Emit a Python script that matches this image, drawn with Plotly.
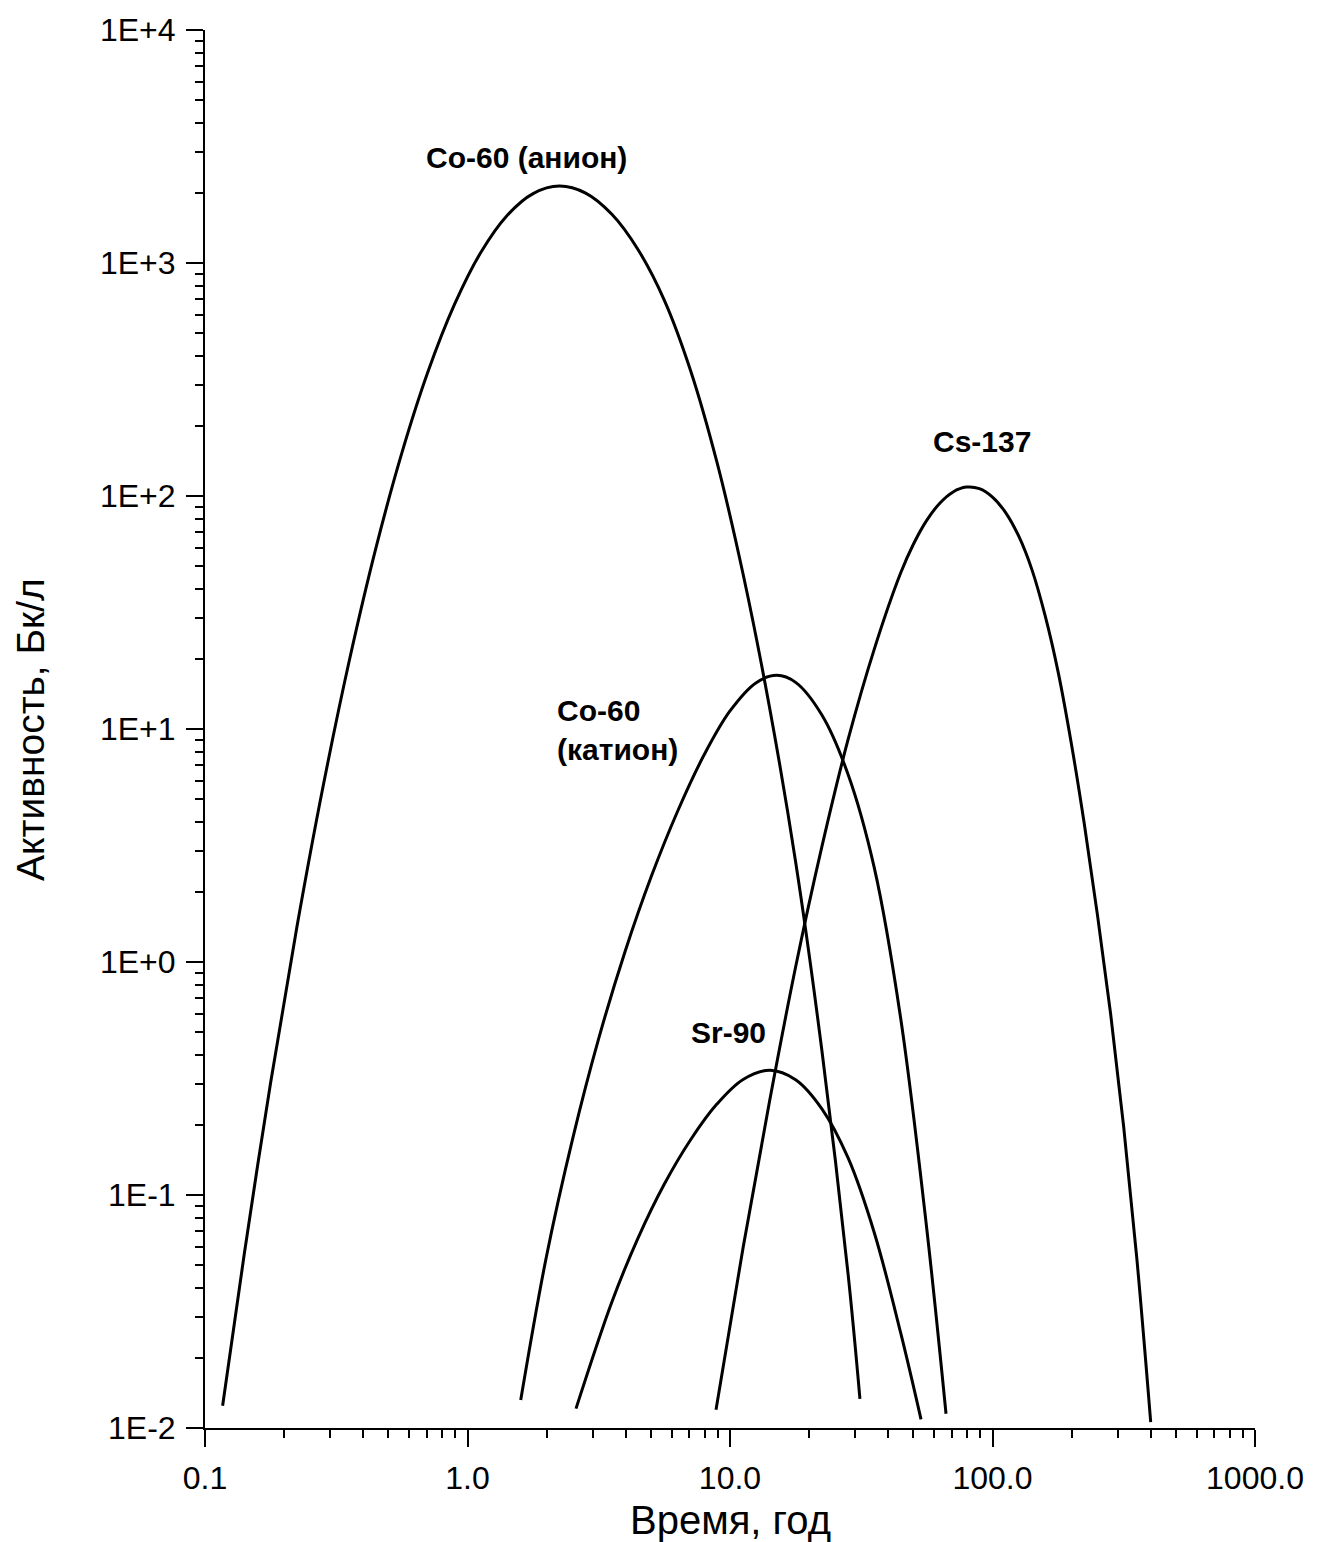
import numpy as np
import plotly.graph_objects as go

# Time (years) and activity (Bq/L) for each radionuclide
t_co60_anion = [0.1167, 0.1413, 0.1778, 0.2239, 0.2818, 0.3548, 0.4467, 0.5623, 0.7079,
                0.8913, 1.122, 1.413, 1.778, 2.239, 2.818, 3.548, 4.467, 5.623, 7.079,
                8.913, 11.22, 14.13, 17.78, 22.39, 28.18, 31.26]
a_co60_anion = [0.01245, 0.05636, 0.3034, 1.413, 5.675, 19.72, 59.16, 153.1, 342.8,
                662.2, 1107, 1596, 1986, 2138, 1995, 1618, 1140, 691.8, 345.1,
                140.0, 46.13, 12.47, 2.692, 0.4169, 0.04560, 0.01334]

t_co60_cation = [1.595, 1.995, 2.512, 3.162, 3.981, 5.012, 6.310, 7.943, 10.0, 12.59,
                 15.07, 17.78, 22.39, 28.18, 35.48, 44.67, 56.23, 66.52]
a_co60_cation = [0.01318, 0.05395, 0.1734, 0.4699, 1.107, 2.326, 4.426, 7.691, 11.95, 15.81,
                 16.99, 15.85, 11.48, 6.379, 2.527, 0.5754, 0.07096, 0.01151]

t_sr90 = [2.590, 3.548, 4.467, 5.623, 7.079, 8.913, 11.22, 14.21, 17.78, 22.39,
          28.18, 35.48, 44.67, 53.42]
a_sr90 = [0.01211, 0.03475, 0.06546, 0.1114, 0.1726, 0.2455, 0.3133, 0.3433, 0.3126, 0.2344,
          0.1442, 0.06871, 0.02564, 0.01089]

t_cs137 = [8.845, 11.22, 14.13, 17.78, 22.39, 28.18, 35.48, 44.67, 50.12, 56.23,
           63.10, 70.79, 79.43, 89.13, 100.0, 112.2, 125.9, 141.3, 158.5, 177.8,
           199.5, 223.9, 251.2, 281.8, 316.2, 354.8, 400.6]
a_cs137 = [0.01199, 0.05957, 0.2506, 0.9515, 3.126, 9.018, 22.08, 46.70, 62.52, 78.77,
           93.37, 104.1, 109.2, 107.6, 99.01, 84.90, 67.20, 48.31, 30.79, 17.58,
           8.710, 3.890, 1.585, 0.5999, 0.1950, 0.05316, 0.01060]

# Curve labels: text, anchor position (years, Bq/L), horizontal anchor
labels = [
    ("Co-60 (анион)", 1.685, 2850, "center"),
    ("Cs-137", 91.2, 172.0, "center"),
    ("Co-60<br>(катион)", 2.154, 9.9, "left"),
    ("Sr-90", 7.00, 0.5006, "left"),
]

# Axis ticks
x_major = [0.1, 1, 10, 100, 1000]
x_major_text = ["0.1", "1.0", "10.0", "100.0", "1000.0"]
y_major = [1e-2, 1e-1, 1e0, 1e1, 1e2, 1e3, 1e4]
y_major_text = ["1E-2", "1E-1", "1E+0", "1E+1", "1E+2", "1E+3", "1E+4"]
x_minor = [m * 10.0 ** k for k in range(-1, 3) for m in range(2, 10)]
y_minor = [m * 10.0 ** k for k in range(-2, 4) for m in range(2, 10)]

FONT = "Arial, 'Liberation Sans', sans-serif"

fig = go.Figure()
for t, a in [(t_co60_anion, a_co60_anion), (t_co60_cation, a_co60_cation),
             (t_sr90, a_sr90), (t_cs137, a_cs137)]:
    fig.add_trace(go.Scatter(
        x=t, y=a, mode="lines",
        line=dict(color="black", width=3, shape="spline", smoothing=1.0),
        showlegend=False, hoverinfo="skip",
    ))

for text, tx, ay, anchor in labels:
    fig.add_annotation(
        x=np.log10(tx), y=np.log10(ay), xref="x", yref="y",
        text=f"<b>{text}</b>", showarrow=False, align="left",
        xanchor=anchor, yanchor="middle",
        font=dict(family=FONT, size=30, color="black"),
    )

# Axis titles
fig.add_annotation(
    x=0.5, y=-0.0656, xref="paper", yref="paper", text="Время, год",
    showarrow=False, xanchor="center", yanchor="middle", borderpad=0,
    font=dict(family=FONT, size=40, color="black"),
)
fig.add_annotation(
    x=-0.1667, y=0.5, xref="paper", yref="paper", text="Активность, Бк/л",
    showarrow=False, textangle=-90, xanchor="center", yanchor="middle",
    font=dict(family=FONT, size=39, color="black"),
)

axis_common = dict(
    type="log", showline=True, linecolor="black", linewidth=2,
    ticks="outside", ticklen=17, tickwidth=2, tickcolor="black",
    showgrid=False, zeroline=False, mirror=False,
    tickfont=dict(family=FONT, size=32, color="black"),
    tickmode="array", ticklabelstandoff=4,
)

fig.update_xaxes(
    range=[-1, 3], tickvals=x_major, ticktext=x_major_text,
    minor=dict(tickmode="array", tickvals=x_minor, ticks="outside",
               ticklen=8, tickwidth=2, tickcolor="black", showgrid=False),
    **axis_common,
)
fig.update_yaxes(
    range=[-2, 4], tickvals=y_major, ticktext=y_major_text,
    minor=dict(tickmode="array", tickvals=y_minor, ticks="outside",
               ticklen=8, tickwidth=2, tickcolor="black", showgrid=False),
    **axis_common,
)

fig.update_layout(
    width=1322, height=1542,
    margin=dict(l=205, r=67, t=25, b=114),
    plot_bgcolor="white", paper_bgcolor="white",
    font=dict(family=FONT, color="black"),
)

fig.write_html("out.html")
